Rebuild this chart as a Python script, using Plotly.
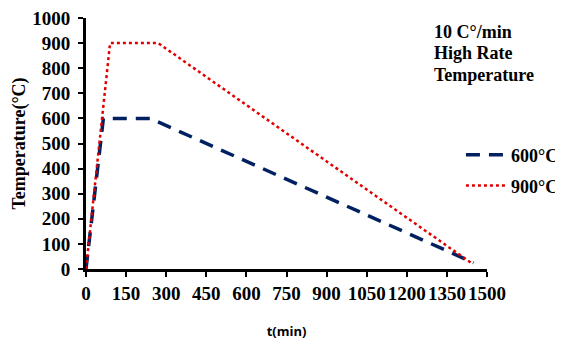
import plotly.graph_objects as go

t_600 = [0, 65, 240, 1450]
temp_600 = [0, 600, 600, 25]
t_900 = [0, 90, 270, 1440]
temp_900 = [0, 900, 900, 25]
x_ticks = [0, 150, 300, 450, 600, 750, 900, 1050, 1200, 1350, 1500]
y_ticks = [0, 100, 200, 300, 400, 500, 600, 700, 800, 900, 1000]
note_lines = ["10 C°/min", "High Rate", "Temperature"]

serif = "Liberation Serif, Times New Roman, serif"

fig = go.Figure()
fig.add_trace(go.Scatter(x=t_600, y=temp_600, mode="lines", name="<b>600°C</b>", legend="legend",
                         showlegend=True,
                         line=dict(color="#002060", width=3.5, dash="14px,9px")))
fig.add_trace(go.Scatter(x=t_900, y=temp_900, mode="lines", name="<b>900°C</b>", legend="legend2",
                         showlegend=True,
                         line=dict(color="#e00000", width=2.5, dash="dot")))

axis_common = dict(showline=True, linecolor="black", linewidth=3, ticks="outside",
                   ticklen=5, tickwidth=2, tickcolor="black", showgrid=False,
                   zeroline=False, mirror=False, automargin=False, tickangle=0,
                   tickfont=dict(family=serif, size=19, color="black"))

leg_common = dict(xanchor="left", yanchor="middle", x=0.935,
                  font=dict(family=serif, size=18, color="black"),
                  bgcolor="rgba(0,0,0,0)", itemwidth=40)

annotations = []
for txt, yy in zip(note_lines, [0.944, 0.861, 0.773]):
    annotations.append(dict(text="<b>%s</b>" % txt, xref="paper", yref="paper",
                            x=0.862, y=yy, xanchor="left", yanchor="middle", align="left",
                            showarrow=False, font=dict(family=serif, size=18, color="black")))

fig.update_layout(
    width=555, height=335,
    margin=dict(l=78, r=76, t=10, b=74, autoexpand=False),
    paper_bgcolor="white", plot_bgcolor="white",
    showlegend=True,
    xaxis=dict(range=[0, 1500], tickvals=x_ticks, ticktext=["<b>%d</b>" % v for v in x_ticks],
               title=dict(text="<b>t(min)</b>", font=dict(family="Open Sans", size=13, color="black"),
                          standoff=25),
               **axis_common),
    yaxis=dict(range=[0, 1000], tickvals=y_ticks, ticktext=["<b>%d</b>" % v for v in y_ticks],
               ticklabelstandoff=4,
               title=dict(text="<b>Temperature(°C)</b>", font=dict(family=serif, size=18, color="black"),
                          standoff=2),
               **axis_common),
    legend=dict(y=0.454, **leg_common),
    legend2=dict(y=0.331, **leg_common),
    annotations=annotations,
)

fig.write_html("out.html")
